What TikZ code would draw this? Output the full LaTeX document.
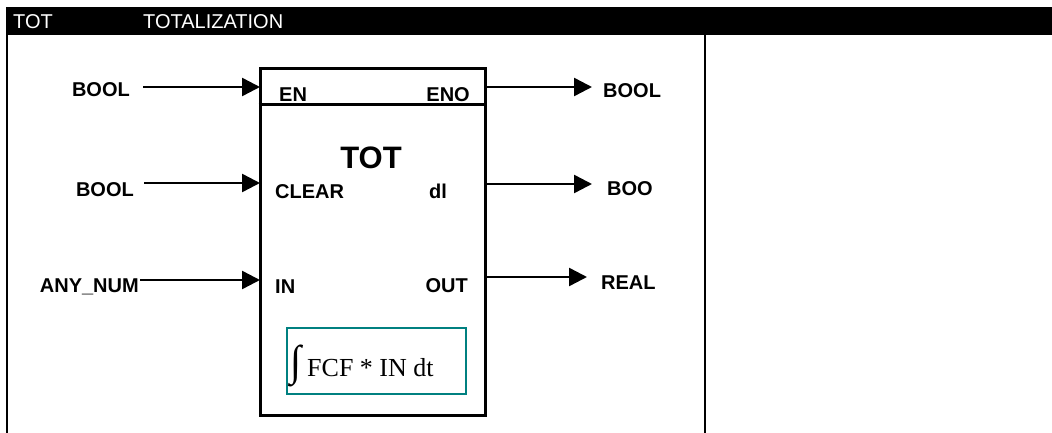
\documentclass[tikz,border=0pt]{standalone}
\usepackage{fontspec}
\setmainfont{Liberation Serif}
\setsansfont{Liberation Sans}
\usetikzlibrary{arrows.meta,positioning}
\definecolor{lawteal}{RGB}{0,128,128}

\begin{document}
\begin{tikzpicture}[x=1pt,y=-1pt,
  lbl/.style={font=\sffamily\bfseries\fontsize{20}{24}\selectfont,inner sep=0pt},
  hdr/.style={font=\sffamily\fontsize{20}{24}\selectfont,text=white,inner sep=0pt,anchor=base west},
  wire/.style={line width=2.5pt,-{Triangle[length=18pt,width=18pt]}}]
\useasboundingbox (0,0) rectangle (1052,433);
% header bar and table rules
\fill (6,7) rectangle (1052,35);
\node[hdr] (code) at (13,29) {TOT};
\node[hdr] (title) at (143,29) {TOTALIZATION};
\draw[line width=2pt] (7,35)--(7,433);
\draw[line width=2pt] (705,35)--(705,433);
% function block
\node[draw,line width=3pt,minimum width=225pt,minimum height=346pt,inner sep=0pt] (tot) at (372.5,242) {};
\draw[line width=3pt] (tot.west |- 0,105) -- (tot.east |- 0,105);
\node[lbl,font=\sffamily\bfseries\fontsize{31}{36}\selectfont,anchor=base] (name) at (371,168) {TOT};
\node[lbl,anchor=base west] (en) at (279,102) {EN};
\node[lbl,anchor=base east] (eno) at (470,102) {ENO};
\node[lbl,anchor=base west] (clear) at (275,198) {CLEAR};
\node[lbl,anchor=base east] (dl) at (447,198) {dl};
\node[lbl,anchor=base west] (in) at (275,293) {IN};
\node[lbl,anchor=base east] (out) at (468,292) {OUT};
\coordinate (pEN) at (260,87);
\coordinate (pCLEAR) at (260,183);
\coordinate (pIN) at (260,280);
\coordinate (pENO) at (485,87);
\coordinate (pDL) at (487,184);
\coordinate (pOUT) at (484,277);
% integral law
\node[draw=lawteal,line width=2pt,minimum width=179pt,minimum height=66.6pt,inner sep=0pt] (law) at (376.2,361) {};
\node[anchor=south west,inner sep=0pt] (intg) at (290,387) {\resizebox*{11pt}{42pt}{∫}};
\node[anchor=base west,inner sep=0pt,font=\rmfamily\fontsize{26}{30}\selectfont] (expr) at (307,376) {FCF * IN dt};
% inputs
\node[lbl,anchor=base east] (inA) at (130,97) {BOOL};
\node[lbl,anchor=base east] (inB) at (134,196) {BOOL};
\node[lbl,anchor=base east] (inC) at (139,292) {ANY\_NUM};
\draw[wire] ([xshift=13pt]inA.east |- pEN) -- (pEN);
\draw[wire] ([xshift=10pt]inB.east |- pCLEAR) -- (pCLEAR);
\draw[wire] ([xshift=1pt]inC.east |- pIN) -- (pIN);
% outputs
\node[lbl,anchor=base west] (outA) at (603,98) {BOOL};
\node[lbl,anchor=base west] (outB) at (607,195) {BOO};
\node[lbl,anchor=base west] (outC) at (601,289) {REAL};
\draw[wire] (pENO) -- ([xshift=-11pt]outA.west |- pENO);
\draw[wire] (pDL) -- ([xshift=-15pt]outB.west |- pDL);
\draw[wire] (pOUT) -- ([xshift=-14pt]outC.west |- pOUT);
\end{tikzpicture}
\end{document}
